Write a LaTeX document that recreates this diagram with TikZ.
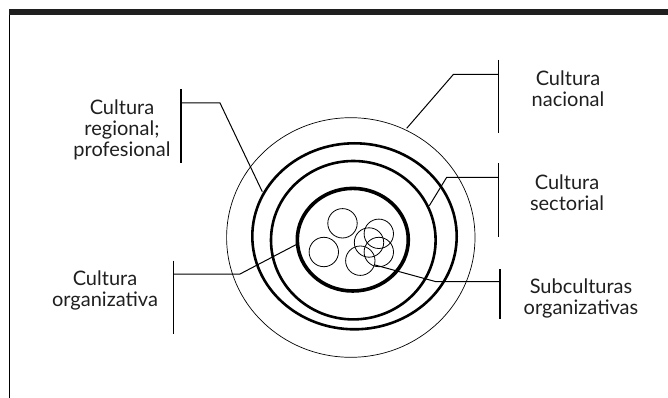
\documentclass[tikz,border=0pt]{standalone}
\usepackage{fontspec}
\newfontfamily\lblfont{Lato}
\begin{document}
\begin{tikzpicture}[x=1pt,y=-1pt,font={\lblfont\fontsize{20}{21}\selectfont},
  lbl/.style={align=center,anchor=north,inner sep=0pt,text=black!88},
  bar/.style={line width=1.3pt},
  lead/.style={line width=1pt},
  cell/.style={circle,draw,inner sep=0pt,outer sep=0pt,minimum size=29.4pt,line width=.8pt}]
\useasboundingbox (0,0) rectangle (668,398);
\fill[black!88] (9,9) rectangle (668,15);
\draw[bar] (9.6,15)--(9.6,398);
% rings
\foreach \cx/\cy/\rx/\ry/\w in {350.8/237.5/124.2/119.8/.7,354.5/236.3/102.2/93/2.6,
  353.3/240.2/82.3/79.2/2.6,352.8/239.7/55.5/51.3/3.6}{
\draw[line width=\w pt] (\cx,\cy) ellipse [x radius=\rx pt,y radius=\ry pt];
}
% subcultures
\foreach \n/\cx/\cy in {s1/342.5/223.3,s2/323.8/252,s3/378.8/233.8,s4/369/242.5,s5/378.8/252,s6/360.3/260.7}
\node[cell] (\n) at (\cx,\cy) {};
% labels
\node[lbl] (regional) at (122,99.5) {Cultura\\regional;\\profesional};
\node[lbl] (nacional) at (568,71) {Cultura\\nacional};
\node[lbl] (sectorial) at (567,174.5) {Cultura\\sectorial};
\node[lbl] (subcult) at (581,279) {Subculturas\\organizativas};
\node[lbl] (organiz) at (105,270.5) {Cultura\\organizativa};
% leader lines
\foreach \n/\bx/\ta/\tb/\my/\kx/\ex/\ey in {regional/181/89/163/103/220/262.3/191.7,
  nacional/498.3/60/133.5/74.5/453.3/406.7/128.3,
  sectorial/498.3/163/236.7/177.3/446.7/429.3/205.7,
  subcult/500/269/319/281.7/436/375/265,
  organiz/173.3/260.7/334/274/240/297.3/244}{
\coordinate (\n-t) at (\bx,\ta);
\coordinate (\n-b) at (\bx,\tb);
\coordinate (\n-m) at (\bx,\my);
\coordinate (\n-k) at (\kx,\my);
\coordinate (\n-e) at (\ex,\ey);
\draw[bar] (\n-t)--(\n-b);
\draw[lead] (\n-m)--(\n-k)--(\n-e);
}
\end{tikzpicture}
\end{document}
